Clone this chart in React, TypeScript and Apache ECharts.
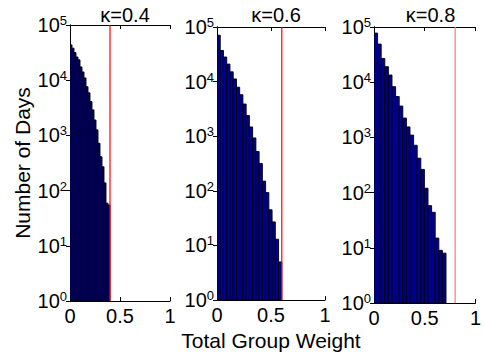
import React, { useEffect, useRef } from "react";
import * as echarts from "echarts";

// Histogram counts (Number of Days) per bin
const counts04 = [43600, 38000, 31600, 26300, 23400, 17400, 14100, 11000, 7600, 5900, 4100, 2900, 1900, 1260, 720, 410, 270, 138, 59, 55];
const counts06 = [70800, 37200, 28200, 20900, 15100, 11200, 7900, 5750, 3890, 2400, 1480, 930, 525, 316, 151, 93, 45, 27, 13, 5];
const counts08 = [77600, 49000, 26900, 19100, 13500, 8300, 5500, 3700, 2240, 1550, 1100, 720, 420, 263, 120, 58, 44, 15, 9, 8];
const binWidths = [0.02, 0.03, 0.0355];
const kappas = [0.4, 0.6, 0.8];
const titles = ["κ=0.4", "κ=0.6", "κ=0.8"];
const redColors = ["#ff0000", "#ff0000", "#ff7878"];

const FONT = "'Liberation Sans', Arial, Helvetica, sans-serif";

export default function App() {
  const ref = useRef<HTMLDivElement>(null);
  useEffect(() => {
    document.body.style.margin = "0";
    const chart = echarts.init(ref.current!, null, { renderer: "svg" });
    const allCounts = [counts04, counts06, counts08];
    const grids = [
      { left: 70, top: 25, width: 100, height: 276 },
      { left: 217, top: 27, width: 108, height: 274 },
      { left: 374, top: 27, width: 103, height: 276 },
    ];
    const xAxes: any[] = [];
    const yAxes: any[] = [];
    const series: any[] = [];
    grids.forEach((g, i) => {
      const tick = { show: true, inside: true, length: 4, lineStyle: { color: "#000" } };
      xAxes.push({
        gridIndex: i, type: "value", min: 0, max: 1, interval: 0.5, position: "bottom",
        axisLine: { show: true, lineStyle: { color: "#000" } },
        axisTick: tick, splitLine: { show: false },
        axisLabel: { color: "#000", fontSize: 20, fontFamily: FONT, margin: 5 },
        ...(i === 1 ? {
          name: "Total Group Weight", nameLocation: "middle", nameGap: 25,
          nameTextStyle: { color: "#000", fontSize: 21, fontFamily: FONT },
        } : {}),
      });
      xAxes.push({
        gridIndex: i, type: "value", min: 0, max: 1, interval: 0.5, position: "top",
        axisLine: { show: true, lineStyle: { color: "#000" } },
        axisTick: tick, splitLine: { show: false }, axisLabel: { show: false },
      });
      yAxes.push({
        gridIndex: i, type: "log", logBase: 10, min: 1, max: 100000, splitNumber: 5, position: "left",
        axisLine: { show: true, lineStyle: { color: "#000" } },
        axisTick: tick, splitLine: { show: false },
        axisLabel: {
          margin: 3,
          formatter: (v: number) => "{b|10}{s|" + Math.round(Math.log10(v)) + "}",
          rich: {
            b: { fontSize: 20, fontFamily: FONT, color: "#000", lineHeight: 22 },
            s: { fontSize: 13, fontFamily: FONT, color: "#000", lineHeight: 13, verticalAlign: "top" },
          },
        },
        ...(i === 0 ? {
          name: "Number of Days", nameLocation: "middle", nameGap: 37, nameRotate: 90,
          nameTextStyle: { color: "#000", fontSize: 21, fontFamily: FONT },
        } : {}),
      });
      yAxes.push({
        gridIndex: i, type: "log", logBase: 10, min: 1, max: 100000, splitNumber: 5, position: "right",
        axisLine: { show: true, lineStyle: { color: "#000" } },
        axisTick: tick, splitLine: { show: false }, axisLabel: { show: false },
      });
      const w = binWidths[i];
      const data = allCounts[i].map((c, k) => [k * w, (k + 1) * w, c]);
      series.push({
        type: "custom",
        xAxisIndex: i * 2, yAxisIndex: i * 2,
        data,
        clip: true,
        renderItem: (params: any, api: any) => {
          const p0 = api.coord([api.value(0), api.value(2)]);
          const p1 = api.coord([api.value(1), 1]);
          return {
            type: "rect",
            shape: { x: p0[0], y: p0[1], width: p1[0] - p0[0], height: p1[1] - p0[1] },
            style: { fill: "#00008F", stroke: "#000", lineWidth: 0.9 },
          };
        },
      });
      series.push({
        type: "line",
        xAxisIndex: i * 2, yAxisIndex: i * 2,
        data: [[kappas[i], 1], [kappas[i], 100000]],
        showSymbol: false, symbol: "none",
        lineStyle: { color: redColors[i], width: 1.2 },
        z: 5,
      });
    });
    chart.setOption({
      animation: false,
      backgroundColor: "#fff",
      title: grids.map((g, i) => ({
        text: titles[i],
        left: g.left + g.width / 2,
        top: 0,
        textAlign: "center",
        textStyle: { fontSize: 20, fontWeight: "normal", color: "#000", fontFamily: FONT },
      })),
      grid: grids.map((g) => ({ ...g, containLabel: false })),
      xAxis: xAxes,
      yAxis: yAxes,
      series,
    });
    return () => chart.dispose();
  }, []);
  return <div ref={ref} style={{ width: 484, height: 356 }} />;
}
